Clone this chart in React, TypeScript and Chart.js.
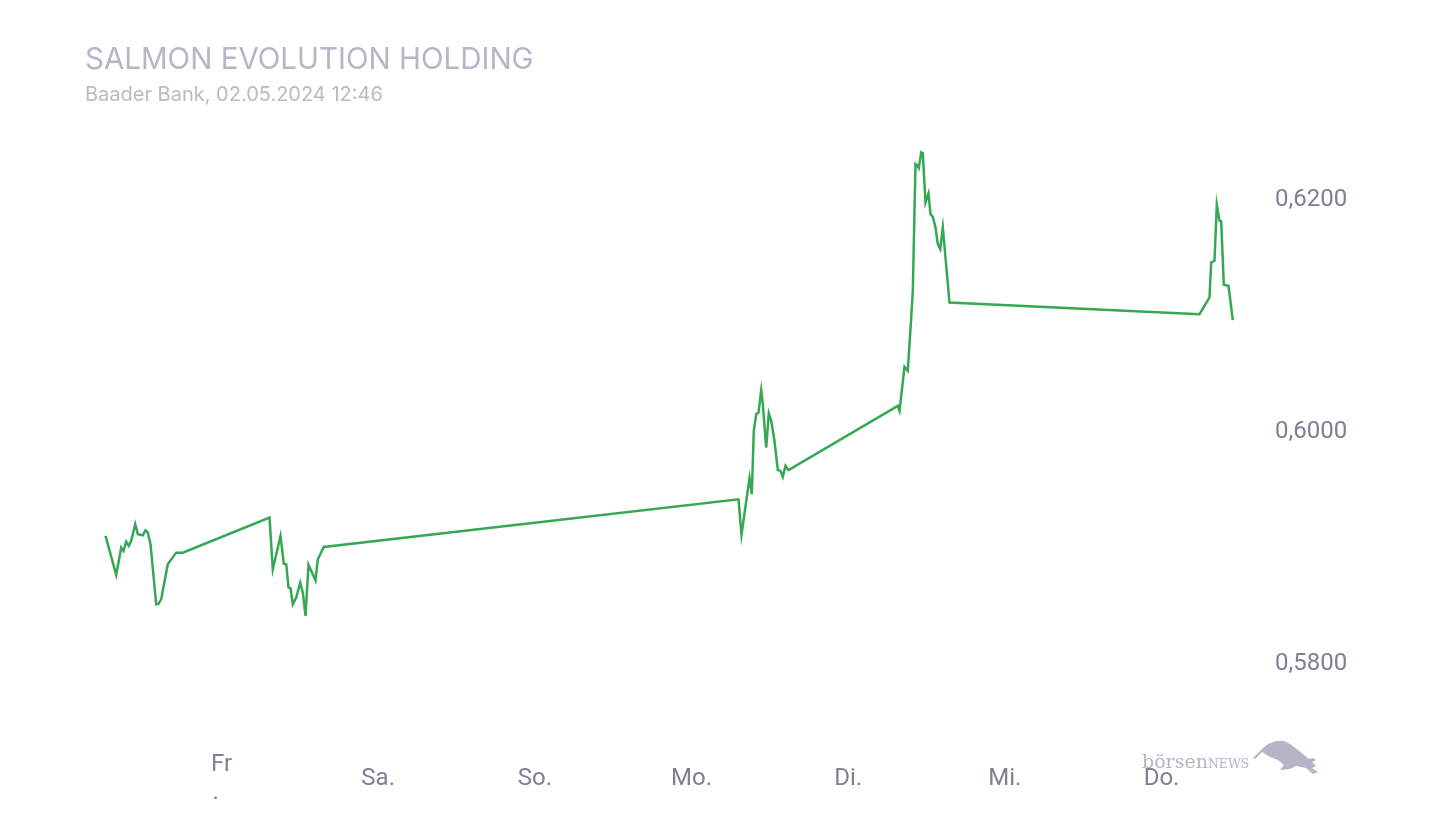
import React, { useEffect, useRef } from "react";
import { Chart, registerables } from "chart.js";

Chart.register(...registerables);

const titleText = "SALMON EVOLUTION HOLDING";
const subtitleText = "Baader Bank, 02.05.2024 12:46";

const dayLabels: (string | string[])[] = [["Fr", ".  "], "Sa.", "So.", "Mo.", "Di.", "Mi.", "Do."];
const dayTicks = [0, 1, 2, 3, 4, 5, 6];
const priceTicks = [0.58, 0.6, 0.62];

const dayPos = [
  -0.7404, -0.6721, -0.6402, -0.6255, -0.6083, -0.5917, -0.5764, -0.5508, -0.5342, -0.5023,
  -0.4851, -0.4704, -0.4532, -0.4168, -0.4021, -0.3849, -0.3428, -0.2891, -0.247,
  0.3064, 0.3274, 0.3766, 0.3977, 0.413, 0.4277, 0.4404, 0.4551, 0.4768, 0.5023,
  0.5189, 0.5362, 0.5553, 0.6, 0.6147, 0.653,
  3.2999, 3.3191, 3.3702, 3.3848, 3.3976, 3.4129, 3.4276, 3.4448, 3.455, 3.4767,
  3.4934, 3.5086, 3.5297, 3.5508, 3.568, 3.5827, 3.5999, 3.6191,
  4.3167, 4.3276, 4.3595, 4.3805, 4.4023, 4.4125, 4.4297, 4.4405, 4.4508, 4.4661,
  4.4763, 4.4935, 4.5127, 4.5254, 4.5401, 4.5574, 4.572, 4.5874, 4.604, 4.6467,
  6.2424, 6.3063, 6.3171, 6.3382, 6.3529, 6.3701, 6.3809, 6.3975, 6.4275, 6.455,
];

const price = [
  0.59086, 0.5875, 0.58985, 0.58957, 0.59037, 0.59, 0.59043, 0.59187, 0.59101, 0.59092,
  0.59135, 0.59115, 0.59015, 0.58497, 0.585, 0.58541, 0.58842, 0.58942, 0.58942,
  0.59244, 0.58799, 0.59086, 0.58847, 0.58842, 0.58641, 0.58635, 0.58497, 0.58554, 0.58684,
  0.58597, 0.58397, 0.58836, 0.58704, 0.58885, 0.58991,
  0.59401, 0.59095, 0.59586, 0.59446, 0.59991, 0.60135, 0.60149, 0.60342, 0.60222, 0.59847,
  0.60141, 0.60078, 0.59905, 0.59653, 0.59647, 0.59595, 0.5969, 0.59653,
  0.60207, 0.60164, 0.60543, 0.60509, 0.60968, 0.61198, 0.62291, 0.6228, 0.62256, 0.62391,
  0.62384, 0.61959, 0.62037, 0.61859, 0.61836, 0.61744, 0.61601, 0.61558, 0.61744, 0.61097,
  0.60997, 0.61141, 0.61442, 0.61457, 0.6194, 0.61802, 0.61796, 0.6125, 0.61241, 0.60946,
];

const xMin = -0.8713;
const xMax = 6.6605;
const yMin = 0.57405;
const yMax = 0.62695;

const bullShape = [
  [1245, 750], [1254, 741], [1260, 736], [1268, 733], [1276, 733], [1282, 736],
  [1290, 742], [1296, 747], [1301, 751], [1305, 750], [1308, 752], [1304, 754],
  [1308, 758], [1304, 760], [1310, 764], [1305, 766], [1298, 760], [1288, 758],
  [1282, 761], [1272, 762], [1276, 757], [1270, 752], [1262, 749], [1254, 744], [1247, 751],
];

const watermarkPlugin = {
  id: "watermark",
  beforeDraw(chart: any) {
    const ctx = chart.ctx as CanvasRenderingContext2D;
    ctx.save();
    ctx.fillStyle = "#b4b5c6";
    ctx.textAlign = "left";
    ctx.textBaseline = "alphabetic";
    ctx.font = '19px "DejaVu Serif"';
    ctx.fillText("börsen", 1134, 760);
    const w = ctx.measureText("börsen").width;
    ctx.font = '12.5px "DejaVu Serif"';
    ctx.fillText("NEWS", 1134 + w, 760);
    ctx.beginPath();
    bullShape.forEach(([x, y], i) => (i === 0 ? ctx.moveTo(x, y) : ctx.lineTo(x, y)));
    ctx.closePath();
    ctx.fill();
    ctx.restore();
  },
};

export default function App() {
  const canvasRef = useRef<HTMLCanvasElement | null>(null);

  useEffect(() => {
    if (!canvasRef.current) return;
    const chart = new Chart(canvasRef.current, {
      type: "line",
      data: {
        datasets: [
          {
            data: dayPos.map((d, i) => ({ x: d, y: price[i] })),
            borderColor: "#34a853",
            borderWidth: 2.5,
            pointRadius: 0,
            tension: 0,
            fill: false,
          },
        ],
      },
      options: {
        animation: false,
        responsive: true,
        maintainAspectRatio: false,
        layout: { padding: { left: 77, right: 0, top: 34, bottom: 0 } },
        plugins: {
          legend: { display: false },
          tooltip: { enabled: false },
          title: {
            display: true,
            text: titleText,
            align: "start",
            color: "#b6b7c6",
            font: { family: "Inter", size: 29.5, weight: "normal", lineHeight: 1.2 },
            padding: { top: 0, bottom: 4 },
          },
          subtitle: {
            display: true,
            text: subtitleText,
            align: "start",
            color: "#b9bac8",
            font: { family: "Inter", size: 20, weight: "normal", lineHeight: 1.2 },
            padding: { top: 2, bottom: 9.7 },
          },
        },
        scales: {
          x: {
            type: "linear",
            min: xMin,
            max: xMax,
            grid: { display: false, drawTicks: false },
            border: { display: false },
            afterBuildTicks: (scale: any) => {
              scale.ticks = dayTicks.map((v) => ({ value: v }));
            },
            afterFit: (scale: any) => {
              scale.height = 101;
            },
            ticks: {
              autoSkip: false,
              maxRotation: 0,
              padding: 34,
              crossAlign: "center",
              color: "#7d8096",
              font: { family: "Roboto", size: 24, lineHeight: 1.15 },
              callback: (_v: any, i: number) => dayLabels[i],
            },
          },
          y: {
            type: "linear",
            position: "right",
            min: yMin,
            max: yMax,
            grid: { display: false, drawTicks: false },
            border: { display: false },
            afterBuildTicks: (scale: any) => {
              scale.ticks = priceTicks.map((v) => ({ value: v }));
            },
            afterFit: (scale: any) => {
              scale.width = 167;
            },
            ticks: {
              padding: 10,
              labelOffset: 2,
              color: "#7d8096",
              font: { family: "Roboto", size: 24 },
              callback: (v: any) => Number(v).toFixed(4).replace(".", ","),
            },
          },
        },
      },
      plugins: [watermarkPlugin],
    } as any);
    return () => chart.destroy();
  }, []);

  return (
    <div style={{ width: "100%", height: 824, position: "relative" }}>
      <canvas ref={canvasRef} />
    </div>
  );
}
